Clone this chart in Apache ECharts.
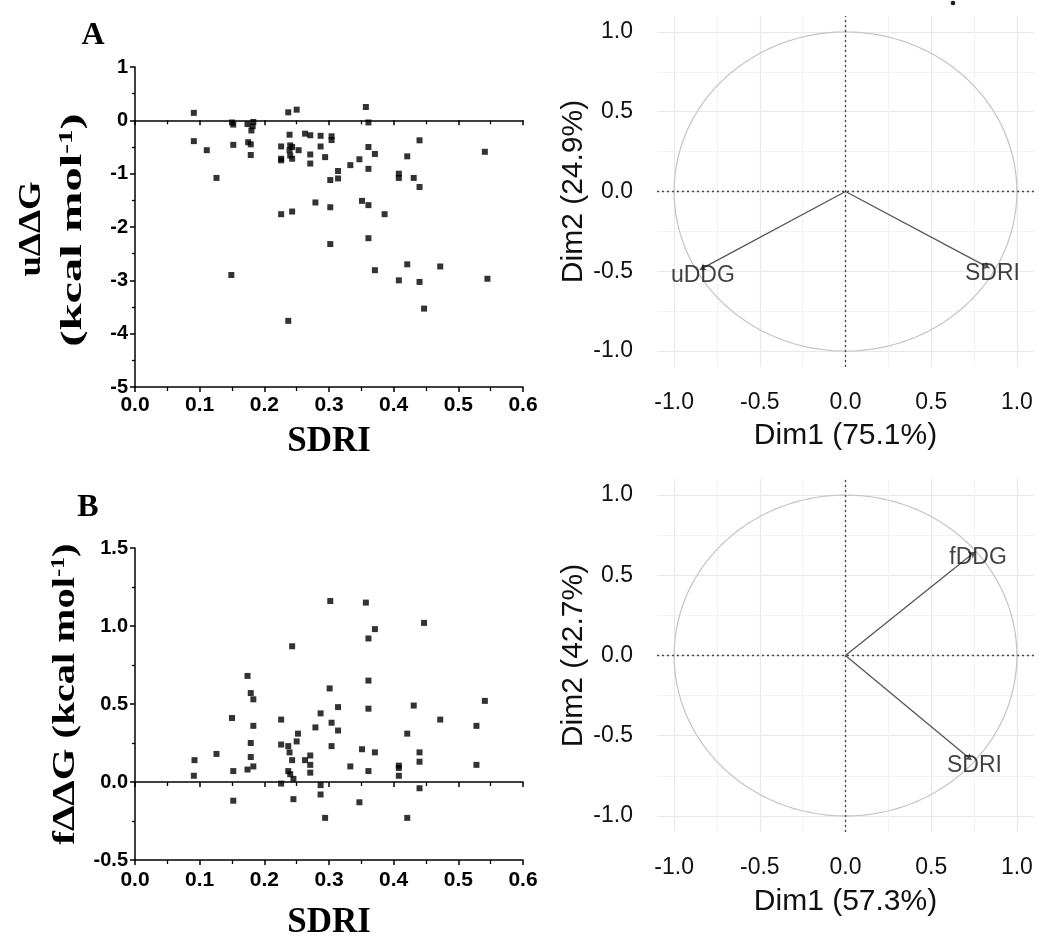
<!DOCTYPE html>
<html><head><meta charset="utf-8">
<script src="https://cdn.jsdelivr.net/npm/echarts@6/dist/echarts.min.js"></script>
<style>html,body{margin:0;padding:0;background:#fff}#c{width:1039px;height:941px}</style>
</head><body><div id="c"></div>
<script>
// Panel A scatter: [SDRI, uΔΔG]
const uPoints = [
  [0.091,0.14],[0.091,-0.39],[0.111,-0.56],[0.126,-1.08],[0.149,-2.90],[0.150,-0.04],[0.152,-0.08],
  [0.152,-0.46],[0.174,-0.07],[0.175,-0.41],[0.179,-0.45],[0.179,-0.65],[0.180,-0.19],[0.182,-0.11],
  [0.183,-0.03],[0.226,-0.49],[0.226,-0.72],[0.226,-0.75],[0.226,-1.76],[0.237,0.15],[0.237,-3.76],
  [0.239,-0.27],[0.240,-0.47],[0.243,-0.50],[0.239,-0.56],[0.253,-0.56],[0.240,-0.66],[0.243,-0.72],
  [0.243,-1.71],[0.250,0.20],[0.263,-0.25],[0.271,-0.28],[0.271,-0.64],[0.271,-0.81],[0.279,-1.54],
  [0.287,-0.29],[0.287,-0.49],[0.294,-0.69],[0.302,-1.12],[0.302,-1.63],[0.302,-2.32],[0.304,-0.30],
  [0.304,-0.37],[0.314,-0.95],[0.314,-1.09],[0.333,-0.84],[0.347,-0.73],[0.351,-1.51],[0.357,0.25],
  [0.361,-0.04],[0.361,-0.50],[0.361,-0.91],[0.361,-1.59],[0.361,-2.21],[0.371,-0.63],[0.371,-2.81],
  [0.386,-1.76],[0.408,-1.00],[0.408,-1.08],[0.408,-3.00],[0.421,-0.675],[0.421,-2.70],[0.431,-1.08],
  [0.440,-0.375],[0.440,-1.25],[0.440,-3.03],[0.447,-3.53],[0.472,-2.74],[0.541,-0.59],[0.545,-2.97]
];
// Panel B scatter: [SDRI, fΔΔG]
const fPoints = [
  [0.091,0.04],[0.092,0.14],[0.126,0.18],[0.150,0.41],[0.152,0.07],[0.152,-0.12],[0.174,0.68],
  [0.174,0.08],[0.179,0.57],[0.179,0.25],[0.179,0.16],[0.183,0.53],[0.183,0.36],[0.183,0.10],
  [0.226,0.40],[0.226,0.24],[0.226,-0.01],[0.237,0.23],[0.237,0.07],[0.239,0.19],[0.240,0.05],
  [0.243,0.87],[0.243,0.14],[0.245,0.02],[0.245,-0.11],[0.250,0.26],[0.252,0.31],[0.263,0.14],
  [0.271,0.17],[0.271,0.11],[0.271,0.06],[0.279,0.35],[0.287,0.44],[0.287,-0.02],[0.287,-0.08],
  [0.294,-0.23],[0.301,0.60],[0.302,1.16],[0.304,0.38],[0.304,0.23],[0.314,0.48],[0.314,0.33],
  [0.333,0.10],[0.347,-0.13],[0.351,0.21],[0.357,1.15],[0.361,0.92],[0.361,0.65],[0.361,0.47],
  [0.361,0.07],[0.371,0.98],[0.371,0.19],[0.408,0.105],[0.408,0.09],[0.408,0.04],[0.421,0.31],
  [0.421,-0.23],[0.431,0.49],[0.440,0.19],[0.440,0.13],[0.440,-0.04],[0.447,1.02],[0.472,0.40],
  [0.528,0.36],[0.528,0.11],[0.541,0.52]
];
// PCA correlation circles
const pcaTicks = [-1, -0.5, 0, 0.5, 1];
const pcaMinorTicks = [-0.75, -0.25, 0.25, 0.75];
const pcaANames = ['uDDG', 'SDRI'];
const pcaADim1 = [-0.85, 0.84];
const pcaADim2 = [-0.49, -0.48];
const pcaBNames = ['fDDG', 'SDRI'];
const pcaBDim1 = [0.756, 0.735];
const pcaBDim2 = [0.646, -0.652];

const SANS = '"Liberation Sans", Arial, sans-serif';
const SERIF = '"Liberation Serif", "Times New Roman", serif';

const chart = echarts.init(document.getElementById('c'));

function sciX(grid, nameGap, margin) {
  return [{
    gridIndex: grid, type: 'value', min: 0, max: 0.6, interval: 0.1, position: 'bottom',
    axisLine: {onZero: false, lineStyle: {color: '#000', width: 1.5}},
    axisTick: {show: true, length: 5, lineStyle: {color: '#000', width: 1.5}},
    minorTick: {show: true, splitNumber: 2, length: 4, lineStyle: {color: '#000', width: 1.3}},
    splitLine: {show: false},
    axisLabel: {fontSize: 21, fontWeight: 'bold', color: '#000', fontFamily: SANS, margin: margin,
      formatter: v => v.toFixed(1)},
    name: 'SDRI', nameLocation: 'middle', nameGap: nameGap,
    nameTextStyle: {fontSize: 35, fontWeight: 'bold', fontFamily: SERIF, color: '#000'}
  }, {
    gridIndex: grid, type: 'value', min: 0, max: 0.6, interval: 0.1, position: 'top',
    axisLine: {onZero: true, lineStyle: {color: '#000', width: 1.5}},
    axisTick: {show: true, inside: true, length: 5, lineStyle: {color: '#000', width: 1.5}},
    minorTick: {show: true, splitNumber: 2, length: 4, lineStyle: {color: '#000', width: 1.3}},
    splitLine: {show: false},
    axisLabel: {show: false}
  }];
}
function sciY(grid, min, max, interval, fmt) {
  return {
    gridIndex: grid, type: 'value', min: min, max: max, interval: interval, position: 'left',
    axisLine: {onZero: false, lineStyle: {color: '#000', width: 1.5}},
    axisTick: {show: true, length: 5, lineStyle: {color: '#000', width: 1.5}},
    minorTick: {show: true, splitNumber: 2, length: 3, lineStyle: {color: '#000', width: 1.3}},
    splitLine: {show: false},
    axisLabel: {fontSize: 20, fontWeight: 'bold', color: '#000', fontFamily: SANS, margin: 7, formatter: fmt}
  };
}
function pcaX(grid, name, nameGap) {
  return [{
    gridIndex: grid, type: 'value', min: -1.1, max: 1.1, position: 'bottom',
    axisLine: {show: false, onZero: false},
    axisTick: {show: false, customValues: pcaTicks},
    axisLabel: {customValues: pcaTicks, fontSize: 23, color: '#111', fontFamily: SANS, margin: 24,
      formatter: v => v.toFixed(1)},
    splitLine: {show: true, lineStyle: {color: '#e8e8e8', width: 1.2}},
    name: name, nameLocation: 'middle', nameGap: nameGap,
    nameTextStyle: {fontSize: 30, color: '#111', fontFamily: SANS}
  }, {
    gridIndex: grid, type: 'value', min: -1.1, max: 1.1, position: 'top',
    axisLine: {show: false, onZero: false},
    axisTick: {show: false, customValues: pcaMinorTicks},
    axisLabel: {show: false},
    splitLine: {show: true, lineStyle: {color: '#f3f3f3', width: 1}}
  }];
}
function pcaY(grid, name, nameGap) {
  return [{
    gridIndex: grid, type: 'value', min: -1.1, max: 1.1, position: 'left',
    axisLine: {show: false, onZero: false},
    axisTick: {show: false, customValues: pcaTicks},
    axisLabel: {customValues: pcaTicks, fontSize: 23, color: '#111', fontFamily: SANS, margin: 24,
      formatter: v => v.toFixed(1)},
    splitLine: {show: true, lineStyle: {color: '#e8e8e8', width: 1.2}},
    name: name, nameLocation: 'middle', nameGap: nameGap,
    nameTextStyle: {fontSize: 30, color: '#111', fontFamily: SANS}
  }, {
    gridIndex: grid, type: 'value', min: -1.1, max: 1.1, position: 'right',
    axisLine: {show: false, onZero: false},
    axisTick: {show: false, customValues: pcaMinorTicks},
    axisLabel: {show: false},
    splitLine: {show: true, lineStyle: {color: '#f3f3f3', width: 1}}
  }];
}

function pcaSeries(xi, yi, names, d1, d2) {
  return [{
    type: 'custom', xAxisIndex: xi, yAxisIndex: yi, silent: true, data: [[0, 0]], z: 2,
    renderItem: function (params, api) {
      const pts = [];
      for (let i = 0; i <= 240; i++) {
        const a = i / 240 * 2 * Math.PI;
        pts.push(api.coord([Math.cos(a), Math.sin(a)]));
      }
      return {type: 'polyline', shape: {points: pts}, style: {stroke: '#c4c4c4', lineWidth: 1.2, fill: null}};
    }
  }, {
    type: 'lines', coordinateSystem: 'cartesian2d', xAxisIndex: xi, yAxisIndex: yi, z: 3,
    symbol: ['none', 'arrow'], symbolSize: [0, 6],
    lineStyle: {color: '#555', width: 1.3, opacity: 1},
    data: names.map((n, i) => ({coords: [[0, 0], [d1[i], d2[i]]]}))
  }, {
    type: 'scatter', xAxisIndex: xi, yAxisIndex: yi, z: 4, symbolSize: 1, silent: true,
    itemStyle: {color: 'rgba(0,0,0,0)'},
    label: {show: true, position: 'inside', formatter: '{b}', fontSize: 23, color: '#111',
      fontFamily: SANS, offset: [3, 6]},
    data: names.map((n, i) => ({name: n, value: [d1[i], d2[i]]})),
    markLine: {
      silent: true, symbol: 'none', label: {show: false},
      lineStyle: {color: '#444', type: [2, 3], width: 1.3},
      data: [{xAxis: 0}, {yAxis: 0}]
    }
  }];
}

const option = {
  backgroundColor: '#fff',
  animation: false,
  grid: [
    {left: 135, top: 67, width: 388, height: 320},
    {left: 135, top: 548, width: 388, height: 315},
    {left: 657, top: 16, width: 377, height: 351},
    {left: 657, top: 479, width: 377, height: 353}
  ],
  xAxis: [].concat(
    sciX(0, 37, 8),
    sciX(1, 45, 10),
    pcaX(2, 'Dim1 (75.1%)', 54),
    pcaX(3, 'Dim1 (57.3%)', 55)
  ),
  yAxis: [].concat(
    [sciY(0, -5, 1, 1, v => String(v))],
    [sciY(1, -0.5, 1.5, 0.5, v => v.toFixed(1))],
    pcaY(2, 'Dim2 (24.9%)', 68),
    pcaY(3, 'Dim2 (42.7%)', 68)
  ),
  series: [].concat(
    [{type: 'scatter', xAxisIndex: 0, yAxisIndex: 0, symbol: 'rect', symbolSize: 6,
      itemStyle: {color: '#000'}, data: uPoints, z: 5},
     {type: 'scatter', xAxisIndex: 2, yAxisIndex: 1, symbol: 'rect', symbolSize: 6,
      itemStyle: {color: '#000'}, data: fPoints, z: 5}],
    pcaSeries(4, 2, pcaANames, pcaADim1, pcaADim2),
    pcaSeries(6, 4, pcaBNames, pcaBDim1, pcaBDim2)
  ),
  graphic: [
    {type: 'text', x: 93, y: 36, style: {text: 'A', fontSize: 32, fontWeight: 'bold', fontFamily: SERIF,
      fill: '#000', align: 'center', verticalAlign: 'middle'}},
    {type: 'text', x: 88, y: 508, style: {text: 'B', fontSize: 32, fontWeight: 'bold', fontFamily: SERIF,
      fill: '#000', align: 'center', verticalAlign: 'middle'}},
    {type: 'text', x: 32, y: 229, rotation: Math.PI / 2, scaleX: 1.15,
      style: {text: 'uΔΔG', fontSize: 32, fontWeight: 'bold', fontFamily: SERIF, fill: '#000',
        align: 'center', verticalAlign: 'middle'}},
    {type: 'text', x: 73, y: 230, rotation: Math.PI / 2, scaleX: 1.62,
      style: {text: '(kcal mol{s|-1})', fontSize: 30, fontWeight: 'bold', fontFamily: SERIF, fill: '#000',
        align: 'center', verticalAlign: 'middle',
        rich: {s: {fontSize: 18, fontWeight: 'bold', fontFamily: SERIF, fill: '#000', verticalAlign: 'top', padding: [0, 0, 8, 0]}}}},
    {type: 'text', x: 66, y: 694, rotation: Math.PI / 2, scaleX: 1.27,
      style: {text: 'fΔΔG (kcal mol{s|-1})', fontSize: 32, fontWeight: 'bold', fontFamily: SERIF, fill: '#000',
        align: 'center', verticalAlign: 'middle',
        rich: {s: {fontSize: 19, fontWeight: 'bold', fontFamily: SERIF, fill: '#000', verticalAlign: 'top', padding: [0, 0, 8, 0]}}}},
    {type: 'circle', shape: {cx: 953, cy: 3, r: 2.3}, style: {fill: '#1a1a1a'}}
  ]
};
chart.setOption(option);
</script>
</body></html>
